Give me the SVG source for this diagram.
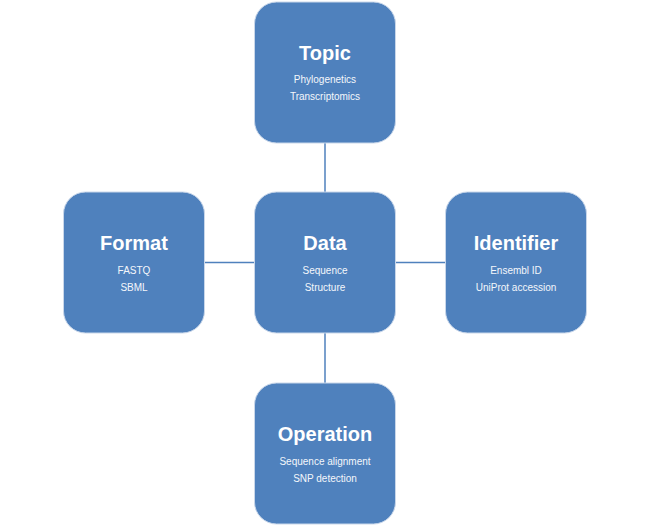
<svg xmlns="http://www.w3.org/2000/svg" width="650" height="526" viewBox="0 0 650 526">
<style>
.box{fill:#4f81bd;stroke:#c9d7ea;stroke-width:1}
.t{font-family:"Liberation Sans",Arial,sans-serif;font-weight:bold;font-size:20px;fill:#ffffff;text-anchor:middle}
.s{font-family:"Liberation Sans",Arial,sans-serif;font-size:10px;fill:#f4f7fb;text-anchor:middle}
.c{stroke:#4f81bd;stroke-width:1.5;fill:none}
</style>
<rect width="650" height="526" fill="#ffffff"/>
<g id="connectors">
<line class="c" x1="325" y1="143" x2="325" y2="192"/>
<line class="c" x1="325" y1="333" x2="325" y2="383"/>
<line class="c" x1="205" y1="262.5" x2="254" y2="262.5"/>
<line class="c" x1="395" y1="262.5" x2="445" y2="262.5"/>
</g>
<g id="topic">
<rect class="box" x="254.5" y="2" width="141" height="141" rx="22"/>
<text class="t" x="325" y="60">Topic</text>
<text class="s" x="325" y="83">Phylogenetics</text>
<text class="s" x="325" y="100">Transcriptomics</text>
</g>
<g id="data">
<rect class="box" x="254.5" y="192" width="141" height="141" rx="22"/>
<text class="t" x="325" y="250">Data</text>
<text class="s" x="325" y="274">Sequence</text>
<text class="s" x="325" y="291">Structure</text>
</g>
<g id="format">
<rect class="box" x="63.5" y="192" width="141" height="141" rx="22"/>
<text class="t" x="134" y="250">Format</text>
<text class="s" x="134" y="274">FASTQ</text>
<text class="s" x="134" y="291">SBML</text>
</g>
<g id="identifier">
<rect class="box" x="445.5" y="192" width="141" height="141" rx="22"/>
<text class="t" x="516" y="250">Identifier</text>
<text class="s" x="516" y="274">Ensembl ID</text>
<text class="s" x="516" y="291">UniProt accession</text>
</g>
<g id="operation">
<rect class="box" x="254.5" y="383" width="141" height="141" rx="22"/>
<text class="t" x="325" y="441">Operation</text>
<text class="s" x="325" y="465">Sequence alignment</text>
<text class="s" x="325" y="482">SNP detection</text>
</g>
</svg>
